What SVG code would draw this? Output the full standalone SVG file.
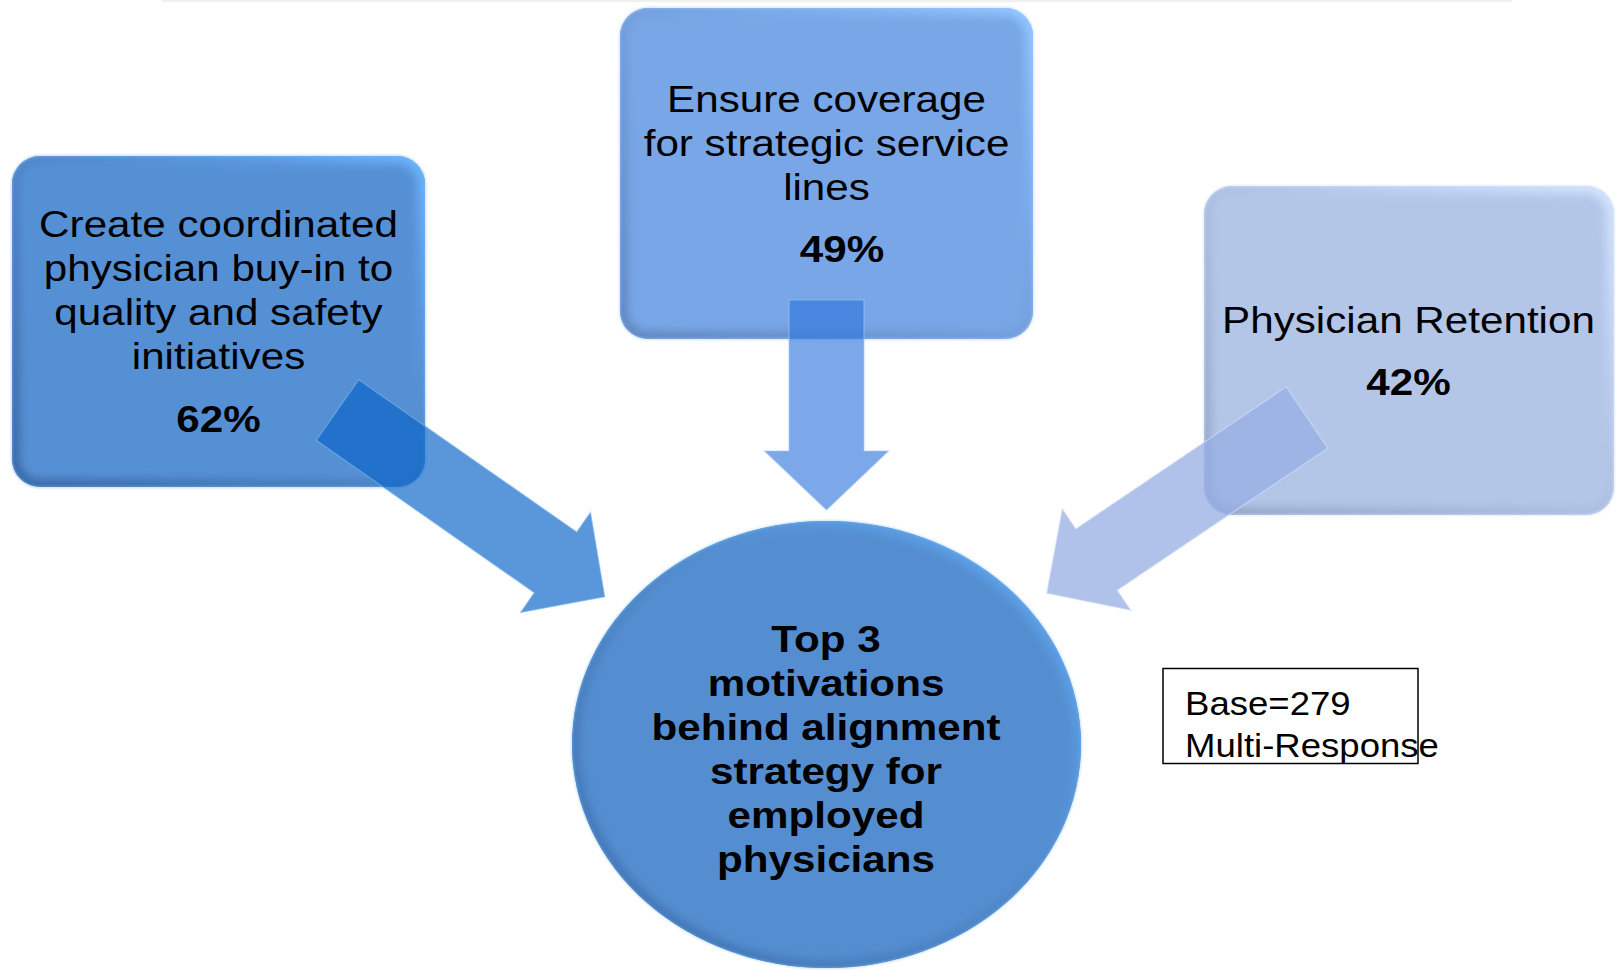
<svg xmlns="http://www.w3.org/2000/svg" width="1616" height="971" viewBox="0 0 1616 971">
  <style>
    .t { font-family: "Liberation Sans", Arial, sans-serif; font-size: 37.5px; fill: #000; text-anchor: middle; }
    .b { font-weight: bold; }
    .note { font-family: "Liberation Sans", Arial, sans-serif; font-size: 32.5px; fill: #000; }
    .shade { fill: none; stroke-width: 16; filter: url(#soft); }
    .rim { fill: none; stroke-width: 1.5; }
  </style>
  <defs>
    <filter id="soft" x="-10%" y="-10%" width="120%" height="120%">
      <feGaussianBlur stdDeviation="4"/>
    </filter>
    <filter id="glow" x="-10%" y="-10%" width="120%" height="120%">
      <feGaussianBlur stdDeviation="1.2"/>
    </filter>

    <!-- edge shading: dark at bottom-left, light at top-right -->
    <linearGradient id="edgeDeep" x1="0" y1="1" x2="1" y2="0">
      <stop offset="0" stop-color="#3a68a6"/>
      <stop offset="0.5" stop-color="#4f86c8"/>
      <stop offset="0.8" stop-color="#5d9ce4"/>
      <stop offset="1" stop-color="#6cb4ff"/>
    </linearGradient>
    <linearGradient id="edgeMid" x1="0" y1="1" x2="1" y2="0">
      <stop offset="0" stop-color="#5f87c0"/>
      <stop offset="0.5" stop-color="#739fdc"/>
      <stop offset="0.8" stop-color="#82b4f2"/>
      <stop offset="1" stop-color="#92c8ff"/>
    </linearGradient>
    <linearGradient id="edgePale" x1="0" y1="1" x2="1" y2="0">
      <stop offset="0" stop-color="#95a4c6"/>
      <stop offset="0.5" stop-color="#adbfe2"/>
      <stop offset="0.8" stop-color="#c4d6f6"/>
      <stop offset="1" stop-color="#d4e4ff"/>
    </linearGradient>
    <linearGradient id="edgeCircle" x1="0" y1="1" x2="1" y2="0">
      <stop offset="0" stop-color="#3f70b0"/>
      <stop offset="0.5" stop-color="#4f88c8"/>
      <stop offset="0.85" stop-color="#5c9ee6"/>
      <stop offset="1" stop-color="#6ab2ff"/>
    </linearGradient>

    <clipPath id="clipQuality"><rect x="12" y="156" width="413" height="331" rx="28"/></clipPath>
    <clipPath id="clipCoverage"><rect x="620" y="8" width="413" height="331" rx="28"/></clipPath>
    <clipPath id="clipRetention"><rect x="1204" y="186" width="410" height="329" rx="28"/></clipPath>
    <clipPath id="clipCenter"><ellipse cx="826.5" cy="744.5" rx="254.5" ry="223.5"/></clipPath>
  </defs>

  <rect width="1616" height="971" fill="#ffffff"/>
  <!-- faint rule along the top edge -->
  <rect x="162" y="0" width="1350" height="2" fill="#f0f0f0"/>

  <g id="node-quality">
    <rect x="12" y="156" width="413" height="331" rx="28" fill="#5690d4"/>
    <rect class="shade" x="12" y="156" width="413" height="331" rx="28" stroke="url(#edgeDeep)" clip-path="url(#clipQuality)"/>
    <rect class="rim" x="12" y="156" width="413" height="331" rx="28" stroke="#7fb6ee" stroke-opacity="0.7" filter="url(#glow)"/>
    <text class="t" transform="translate(218.5,237) scale(1.125,1)"><tspan x="0" y="0">Create coordinated</tspan><tspan x="0" y="44">physician buy-in to</tspan><tspan x="0" y="88">quality and safety</tspan><tspan x="0" y="132">initiatives</tspan><tspan class="b" x="0" y="195">62%</tspan></text>
  </g>

  <g id="node-coverage">
    <rect x="620" y="8" width="413" height="331" rx="28" fill="#78a6e6"/>
    <rect class="shade" x="620" y="8" width="413" height="331" rx="28" stroke="url(#edgeMid)" clip-path="url(#clipCoverage)"/>
    <rect class="rim" x="620" y="8" width="413" height="331" rx="28" stroke="#9cc8f8" stroke-opacity="0.7" filter="url(#glow)"/>
    <text class="t" transform="translate(826.5,112) scale(1.125,1)"><tspan x="0" y="0">Ensure coverage</tspan><tspan x="0" y="44">for strategic service</tspan><tspan x="0" y="88">lines</tspan><tspan class="b" x="13.8" y="150">49%</tspan></text>
  </g>

  <g id="node-retention">
    <rect x="1204" y="186" width="410" height="329" rx="28" fill="#b4c6e8"/>
    <rect class="shade" x="1204" y="186" width="410" height="329" rx="28" stroke="url(#edgePale)" clip-path="url(#clipRetention)"/>
    <rect class="rim" x="1204" y="186" width="410" height="329" rx="28" stroke="#d6e2fa" stroke-opacity="0.8" filter="url(#glow)"/>
    <text class="t" transform="translate(1408.5,333) scale(1.125,1)"><tspan x="0" y="0">Physician Retention</tspan><tspan class="b" x="0" y="62">42%</tspan></text>
  </g>

  <g id="node-center">
    <ellipse cx="826.5" cy="744.5" rx="254.5" ry="223.5" fill="#548ed0"/>
    <ellipse class="shade" cx="826.5" cy="744.5" rx="254.5" ry="223.5" stroke="url(#edgeCircle)" clip-path="url(#clipCenter)"/>
    <ellipse class="rim" cx="826.5" cy="744.5" rx="254.5" ry="223.5" stroke="#7ab8f2" stroke-opacity="0.6" filter="url(#glow)"/>
  </g>

  <g id="connectors">
    <!-- block arrows, translucent, pointing at the centre ellipse -->
    <polygon points="0,-37 266,-37 266,-61 326,0 266,61 266,37 0,37"
             transform="translate(337.5,410) rotate(34.95)"
             fill="#0a64c8" fill-opacity="0.68" stroke="#7ab4ee" stroke-opacity="0.6" stroke-width="1.2"/>
    <polygon points="0,-37.5 151,-37.5 151,-62 210,0 151,62 151,37.5 0,37.5"
             transform="translate(826.5,300) rotate(90)"
             fill="#3075de" fill-opacity="0.63" stroke="#a0c6f6" stroke-opacity="0.6" stroke-width="1.2"/>
    <polygon points="0,-37 254,-37 254,-61 314,0 254,61 254,37 0,37"
             transform="translate(1307,417.5) rotate(145.98)"
             fill="#95ade3" fill-opacity="0.75" stroke="#d0dcf6" stroke-opacity="0.7" stroke-width="1.2"/>
  </g>

  <g id="center-label">
    <text class="t b" transform="translate(826,652) scale(1.125,1)"><tspan x="0" y="0">Top 3</tspan><tspan x="0" y="44">motivations</tspan><tspan x="0" y="88">behind alignment</tspan><tspan x="0" y="132">strategy for</tspan><tspan x="0" y="176">employed</tspan><tspan x="0" y="220">physicians</tspan></text>
  </g>

  <g id="note-base">
    <rect x="1163" y="668.5" width="255" height="95" fill="none" stroke="#000" stroke-width="1.5"/>
    <text class="note" transform="translate(1185,715) scale(1.125,1)"><tspan x="0" y="0">Base=279</tspan><tspan x="0" y="42">Multi-Response</tspan></text>
  </g>
</svg>
